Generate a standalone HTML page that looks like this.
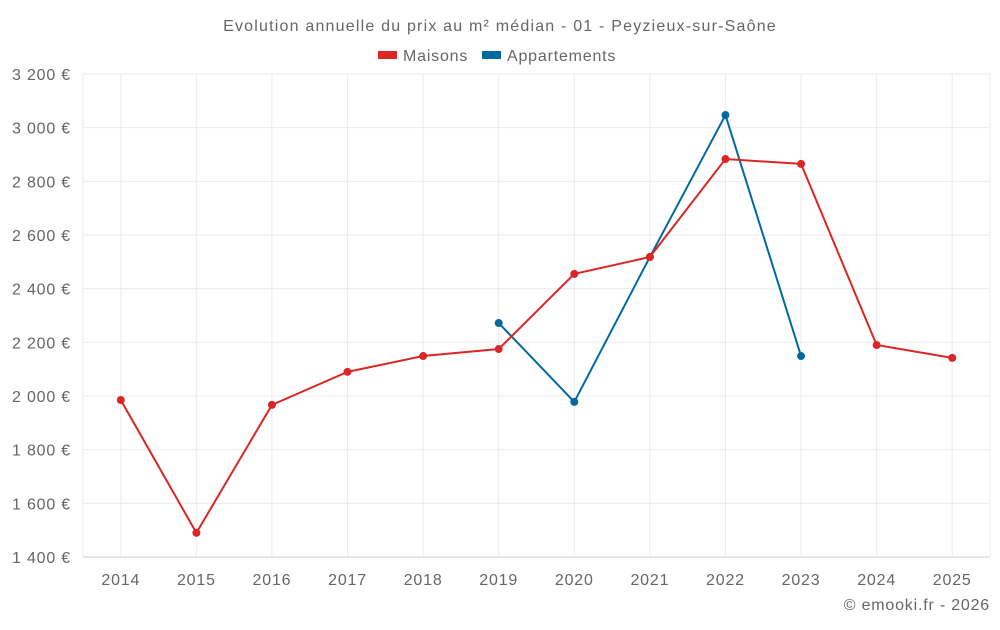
<!DOCTYPE html>
<html><head><meta charset="utf-8"><style>
body{margin:0;background:#fff;font-family:"Liberation Sans",sans-serif;}
svg text{font-family:"Liberation Sans",sans-serif;fill:#666;letter-spacing:0.8px;}
</style></head><body>
<svg id="c" width="1000" height="625">
<text x="500" y="31" text-anchor="middle" font-size="16" style="letter-spacing:1.2px">Evolution annuelle du prix au m² médian - 01 - Peyzieux-sur-Saône</text>
<g>
<g><rect x="378" y="51" width="19" height="8" fill="#dc2626"/><text x="403" y="61" font-size="16">Maisons</text></g>
<g><rect x="482" y="51" width="19" height="8" fill="#0369a1"/><text x="507" y="61" font-size="16">Appartements</text></g>
</g>
<g id="grid"></g><g id="axes"></g><g id="series"></g>
<text x="990" y="610" text-anchor="end" font-size="16">© emooki.fr - 2026</text>
</svg>
<script>
const years=[2014,2015,2016,2017,2018,2019,2020,2021,2022,2023,2024,2025];
const maisons=[1985,1490,1967,2090,2149,2175,2455,2518,2883,2865,2190,2142];
const appartements=[null,null,null,null,null,2272,1978,2518,3047,2149,null,null];
const yTicks=[1400,1600,1800,2000,2200,2400,2600,2800,3000,3200];
const L=83,R=990,T=74,B=557,ymin=1400,ymax=3200;
const step=(R-L)/years.length;
const x=i=>L+step*(i+0.5);
const y=v=>B-(v-ymin)/(ymax-ymin)*(B-T);
const NS="http://www.w3.org/2000/svg";
function mk(t,a,p){const e=document.createElementNS(NS,t);for(const k in a)e.setAttribute(k,a[k]);p.appendChild(e);return e;}
const g=document.getElementById('grid'),ax=document.getElementById('axes'),s=document.getElementById('series');
yTicks.forEach(v=>{
 const l=mk('line',{x1:L,x2:R,y1:y(v),y2:y(v),stroke:v==ymin?'#ccc':'#ebebeb'},g);
 
 
 const t=mk('text',{x:71,y:y(v)+6,'text-anchor':'end','font-size':16},ax);
 t.textContent=v.toLocaleString('fr-FR').replace(/\s/g,' ')+' €';
 
 
});
mk('line',{x1:L,x2:L,y1:T,y2:B,stroke:'#ebebeb'},g);
years.forEach((yr,i)=>{
 const l=mk('line',{x1:x(i),x2:x(i),y1:T,y2:B,stroke:'#ebebeb'},g);
 
 
 const t=mk('text',{x:x(i),y:585,'text-anchor':'middle','font-size':16},ax);
 t.textContent=yr;
 
 
});
mk('line',{x1:R,x2:R,y1:T,y2:B,stroke:'#ebebeb'},g);
function draw(data,color,name){
 let d='';data.forEach((v,i)=>{if(v!=null)d+=(d?'L':'M')+x(i)+','+y(v);});
 const p=mk('path',{d:d,fill:'none',stroke:color,'stroke-width':2},s);
 
 
 data.forEach((v,i)=>{if(v==null)return;
  const c=mk('circle',{cx:x(i),cy:y(v),r:4,fill:color},s);
  
  
 });
}
draw(appartements,'#0369a1','appartements');
draw(maisons,'#dc2626','maisons');
</script>
</body></html>
